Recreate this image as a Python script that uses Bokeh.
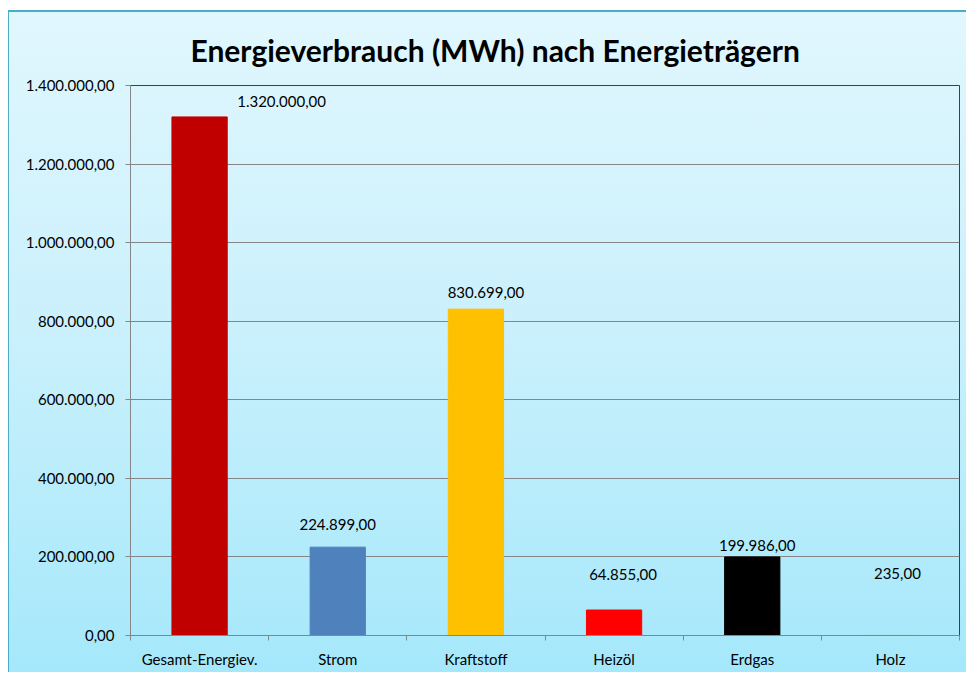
from bokeh.plotting import figure
from bokeh.models import ColumnDataSource, FixedTicker, LabelSet
from bokeh.core.properties import value
from bokeh.embed import file_html
from bokeh.resources import INLINE

categories = ["Gesamt-Energiev.", "Strom", "Kraftstoff", "Heizöl", "Erdgas", "Holz"]
values = [1320000, 224899, 830699, 64855, 199986, 235]
value_labels = ["1.320.000,00", "224.899,00", "830.699,00", "64.855,00", "199.986,00", "235,00"]
y_ticks = [0, 200000, 400000, 600000, 800000, 1000000, 1200000, 1400000]
y_tick_labels = ["0,00", "200.000,00", "400.000,00", "600.000,00", "800.000,00",
                 "1.000.000,00", "1.200.000,00", "1.400.000,00"]

# styles
bar_colors = ["#c00000", "#4f81bd", "#ffc000", "#ff0000", "#000000", "#92d050"]
label_dx = [82, 0, 10, 9, 5, 7]
label_dy = [15, 23, 17, 36, 11, 62]
FONT = "Lato"

n = len(categories)
xs = [i + 0.5 for i in range(n)]
src = ColumnDataSource(dict(x=xs, top=values, color=bar_colors, lab=value_labels,
                            dx=label_dx, dy=label_dy))

p = figure(width=958, height=662, x_range=(0, n), y_range=(0, 1400000),
           output_backend="svg", toolbar_location=None,
           min_border_left=122, min_border_right=7, min_border_top=75, min_border_bottom=37)

p.styles = {"margin": "10px 0 0 8px",
            "background-image": "linear-gradient(to bottom, #e1f7fe 0%, #c9f0fc 50%, #a5e8fb 100%)",
            "box-shadow": "inset 1px 2px 0 0 #4bacc6"}
p.border_fill_alpha = 0
p.background_fill_alpha = 0
p.outline_line_color = "#404040"
p.outline_line_width = 1

p.title.text = "Energieverbrauch (MWh) nach Energieträgern"
p.title.align = "left"
p.title.offset = 60
p.title.text_font = FONT
p.title.text_font_size = "30px"
p.title.text_font_style = "bold"
p.title.text_color = "#000000"
p.title.standoff = 36

p.vbar(x="x", top="top", width=0.4, color="color", source=src)

labels = LabelSet(x="x", y="top", text="lab", x_offset="dx", y_offset="dy", source=src,
                  text_align="center", text_baseline="middle",
                  text_font=value(FONT), text_font_size="15px", text_color="#000000")
p.add_layout(labels)

# y axis
p.yaxis.ticker = FixedTicker(ticks=y_ticks)
p.yaxis.major_label_overrides = {t: l for t, l in zip(y_ticks, y_tick_labels)}
p.yaxis.minor_tick_line_color = None
p.yaxis.major_tick_in = 0
p.yaxis.major_tick_out = 5
p.yaxis.major_label_standoff = 11
p.yaxis.axis_line_color = "#868686"
p.yaxis.major_tick_line_color = "#868686"
p.yaxis.major_label_text_font = FONT
p.yaxis.major_label_text_font_size = "15px"
p.yaxis.major_label_text_color = "#000000"

# x axis
p.xaxis.ticker = FixedTicker(ticks=xs, minor_ticks=list(range(n + 1)))
p.xaxis.major_label_overrides = {x: c for x, c in zip(xs, categories)}
p.xaxis.major_tick_line_color = None
p.xaxis.minor_tick_in = 0
p.xaxis.minor_tick_out = 5
p.xaxis.minor_tick_line_color = "#868686"
p.xaxis.axis_line_color = "#868686"
p.xaxis.major_label_standoff = 8
p.xaxis.major_label_text_font = FONT
p.xaxis.major_label_text_font_size = "15px"
p.xaxis.major_label_text_color = "#000000"

p.xgrid.grid_line_color = None
p.ygrid.ticker = FixedTicker(ticks=y_ticks)
p.ygrid.grid_line_color = "#868686"

open("out.html", "w").write(file_html(p, INLINE))
